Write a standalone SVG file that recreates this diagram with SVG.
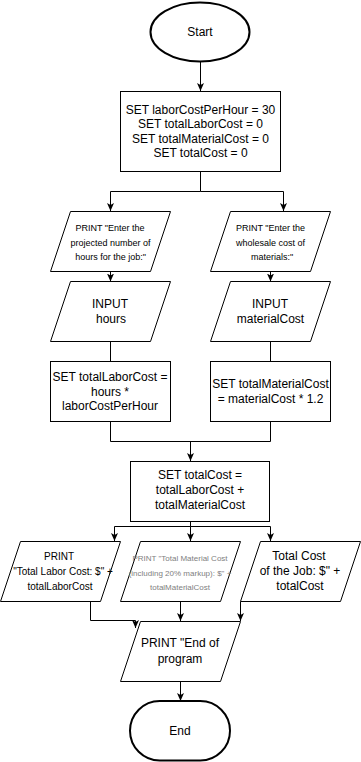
<svg xmlns="http://www.w3.org/2000/svg" width="361" height="762" viewBox="0 0 361 762">
  <style>
    .shape { fill: #ffffff; stroke: #000000; stroke-width: 1; }
    .term { fill: #ffffff; stroke: #000000; stroke-width: 2; }
    .edge { fill: none; stroke: #000000; stroke-width: 1; }
    .arrow { marker-end: url(#head); }
    text { font-family: "Liberation Sans", Arial, Helvetica, sans-serif; fill: #000000; text-anchor: middle; }
    .t12 { font-size: 12px; }
    .t10 { font-size: 10px; }
    .t9 { font-size: 9px; }
    .t8 { font-size: 8px; fill: #808080; }
  </style>
  <defs>
    <marker id="head" viewBox="0 0 8 8" refX="8" refY="4" markerWidth="8" markerHeight="8" markerUnits="userSpaceOnUse" orient="auto">
      <path d="M0,0.5 L8,4 L0,7.5 L2,4 Z" fill="#000000"/>
    </marker>
  </defs>

  <!-- connectors -->
  <g id="connectors">
    <path class="edge arrow" d="M200.5,62 V91"/>
    <path class="edge arrow" d="M200.5,171.5 V191.5 H110.5 V211"/>
    <path class="edge arrow" d="M200.5,191.5 H283.5 V211"/>
    <path class="edge arrow" d="M110.5,271.5 V281.5"/>
    <path class="edge arrow" d="M270.5,271.5 V281.5"/>
    <path class="edge" d="M110.5,341.5 V361.5"/>
    <path class="edge" d="M270.5,341.5 V361.5"/>
    <path class="edge" d="M110.5,421.5 V441.5 H270.5 V421.5"/>
    <path class="edge arrow" d="M190.5,441.5 V461"/>
    <path class="edge arrow" d="M190.5,521.5 V526.5 H114.5 V541"/>
    <path class="edge arrow" d="M190.5,526.5 V541"/>
    <path class="edge arrow" d="M190.5,526.5 H270.5 V541"/>
    <path class="edge arrow" d="M90.5,601.5 V620.5 H135.5 V628"/>
    <path class="edge arrow" d="M180.5,601.5 V621"/>
    <path class="edge arrow" d="M240.5,601.5 V621"/>
    <path class="edge arrow" d="M180.5,681.5 V701"/>
  </g>

  <g id="start">
    <ellipse class="term" cx="200" cy="32" rx="49.5" ry="29.5"/>
    <text class="t12" x="200" y="36">Start</text>
  </g>

  <g id="init">
    <rect class="shape" x="120.5" y="91.5" width="160" height="80"/>
    <text class="t12" x="200.5" y="113.5">SET laborCostPerHour = 30</text>
    <text class="t12" x="200.5" y="128">SET totalLaborCost = 0</text>
    <text class="t12" x="200.5" y="142.5">SET totalMaterialCost = 0</text>
    <text class="t12" x="200.5" y="157">SET totalCost = 0</text>
  </g>

  <g id="prompt-hours">
    <polygon class="shape" points="70.5,211.5 170.5,211.5 150.5,271.5 50.5,271.5"/>
    <text class="t9" x="110" y="231">PRINT "Enter the</text>
    <text class="t9" x="110.5" y="246">projected number of</text>
    <text class="t9" x="110.5" y="260">hours for the job:"</text>
  </g>

  <g id="prompt-materials">
    <polygon class="shape" points="230.5,211.5 330.5,211.5 310.5,271.5 210.5,271.5"/>
    <text class="t9" x="270.5" y="231">PRINT "Enter the</text>
    <text class="t9" x="270.5" y="246">wholesale cost of</text>
    <text class="t9" x="272" y="260">materials:"</text>
  </g>

  <g id="input-hours">
    <polygon class="shape" points="70.5,281.5 170.5,281.5 150.5,341.5 50.5,341.5"/>
    <text class="t12" x="110" y="308">INPUT</text>
    <text class="t12" x="111" y="322.5">hours</text>
  </g>

  <g id="input-material">
    <polygon class="shape" points="230.5,281.5 330.5,281.5 310.5,341.5 210.5,341.5"/>
    <text class="t12" x="270" y="308">INPUT</text>
    <text class="t12" x="270.5" y="322.5">materialCost</text>
  </g>

  <g id="calc-labor">
    <rect class="shape" x="50.5" y="361.5" width="120" height="60"/>
    <text class="t12" x="110" y="381">SET totalLaborCost =</text>
    <text class="t12" x="110" y="395.5">hours *</text>
    <text class="t12" x="110" y="410">laborCostPerHour</text>
  </g>

  <g id="calc-material">
    <rect class="shape" x="210.5" y="361.5" width="120" height="60"/>
    <text class="t12" x="270.5" y="387.5">SET totalMaterialCost</text>
    <text class="t12" x="270.5" y="403">= materialCost * 1.2</text>
  </g>

  <g id="calc-total">
    <rect class="shape" x="130.5" y="461.5" width="139" height="60"/>
    <text class="t12" x="200" y="479">SET totalCost =</text>
    <text class="t12" x="200" y="494">totalLaborCost +</text>
    <text class="t12" x="200" y="509">totalMaterialCost</text>
  </g>

  <g id="print-labor">
    <polygon class="shape" points="20.5,541.5 120.5,541.5 100.5,601.5 0.5,601.5"/>
    <text class="t10" x="59" y="560">PRINT</text>
    <text class="t10" x="63" y="575">"Total Labor Cost: $" +</text>
    <text class="t10" x="60" y="590">totalLaborCost</text>
  </g>

  <g id="print-material">
    <polygon class="shape" points="140.5,541.5 240.5,541.5 220.5,601.5 120.5,601.5"/>
    <text class="t8" x="180" y="561">PRINT "Total Material Cost</text>
    <text class="t8" x="180" y="575.5">(including 20% markup): $" +</text>
    <text class="t8" x="180" y="589.5">totalMaterialCost</text>
  </g>

  <g id="print-total">
    <polygon class="shape" points="260.5,541.5 360.5,541.5 340.5,601.5 240.5,601.5"/>
    <text class="t12" x="299" y="560">Total Cost</text>
    <text class="t12" x="300" y="575">of the Job: $" +</text>
    <text class="t12" x="300" y="590">totalCost</text>
  </g>

  <g id="print-end">
    <polygon class="shape" points="140.5,621.5 240.5,621.5 220.5,681.5 120.5,681.5"/>
    <text class="t12" x="180" y="647">PRINT "End of</text>
    <text class="t12" x="180" y="663">program</text>
  </g>

  <g id="end">
    <rect class="term" x="130" y="701" width="100" height="59.5" rx="29.75" ry="29.75"/>
    <text class="t12" x="180" y="735">End</text>
  </g>
</svg>
